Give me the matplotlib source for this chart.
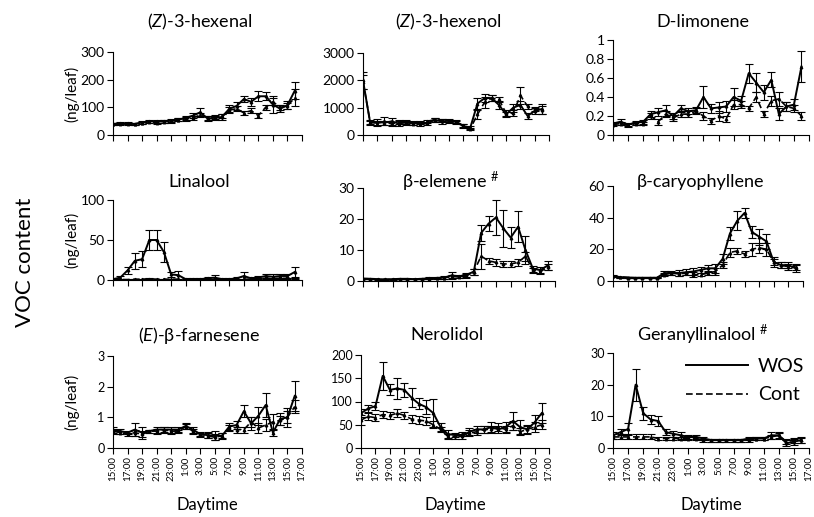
import numpy as np
import matplotlib.pyplot as plt

plt.rcParams['font.family'] = ['Lato', 'DejaVu Sans']
plt.rcParams['mathtext.fontset'] = 'custom'
plt.rcParams['mathtext.rm'] = 'Lato'
plt.rcParams['mathtext.it'] = 'Lato:italic'

# hours after 15:00, one sample per hour (15:00 -> 16:00 next day)
hours = np.arange(26)
tick_labels = ['15:00', '17:00', '19:00', '21:00', '23:00', '1:00', '3:00',
               '5:00', '7:00', '9:00', '11:00', '13:00', '15:00', '17:00']

# (Z)-3-hexenal
hexenal_wos = [40, 42, 40, 40, 45, 50, 50, 48, 52, 55, 62, 70, 82, 60, 62, 65, 95, 105, 130, 120, 140, 140, 110, 95, 108, 160]
hexenal_wos_se = [4, 4, 3, 4, 4, 5, 6, 5, 5, 6, 8, 10, 15, 8, 8, 10, 12, 15, 12, 15, 18, 15, 30, 12, 15, 30]
hexenal_cont = [38, 40, 42, 40, 44, 48, 45, 50, 50, 55, 58, 62, 72, 62, 65, 68, 90, 95, 80, 88, 70, 100, 120, 100, 105, 135]
hexenal_cont_se = [3, 3, 4, 3, 4, 4, 5, 5, 5, 6, 6, 8, 8, 6, 6, 8, 10, 10, 8, 10, 8, 10, 12, 10, 10, 30]

# (Z)-3-hexenol
hexenol_wos = [2000, 450, 480, 450, 500, 420, 460, 450, 400, 430, 550, 500, 520, 480, 330, 270, 1150, 1350, 1350, 1100, 750, 1000, 1100, 700, 880, 950]
hexenol_wos_se = [300, 80, 100, 80, 120, 100, 90, 80, 60, 60, 80, 80, 60, 60, 80, 60, 200, 150, 100, 150, 100, 150, 150, 100, 120, 200]
hexenol_cont = [1950, 480, 420, 500, 400, 480, 450, 420, 450, 500, 560, 520, 500, 480, 350, 230, 750, 1200, 1350, 1300, 800, 800, 1450, 1050, 950, 900]
hexenol_cont_se = [250, 60, 80, 150, 60, 80, 60, 60, 60, 60, 80, 60, 60, 50, 60, 40, 150, 200, 100, 100, 100, 100, 300, 100, 80, 150]

# D-limonene
limonene_wos = [0.12, 0.14, 0.11, 0.13, 0.14, 0.22, 0.24, 0.26, 0.20, 0.28, 0.25, 0.26, 0.40, 0.28, 0.29, 0.30, 0.40, 0.36, 0.65, 0.55, 0.45, 0.58, 0.22, 0.30, 0.32, 0.72]
limonene_wos_se = [0.02, 0.03, 0.02, 0.02, 0.02, 0.03, 0.04, 0.06, 0.03, 0.04, 0.03, 0.03, 0.12, 0.05, 0.06, 0.06, 0.09, 0.05, 0.10, 0.10, 0.08, 0.08, 0.06, 0.05, 0.06, 0.16]
limonene_cont = [0.11, 0.12, 0.10, 0.12, 0.12, 0.20, 0.14, 0.22, 0.18, 0.22, 0.22, 0.25, 0.20, 0.15, 0.20, 0.17, 0.32, 0.32, 0.28, 0.40, 0.22, 0.36, 0.38, 0.30, 0.28, 0.20]
limonene_cont_se = [0.02, 0.02, 0.02, 0.02, 0.02, 0.03, 0.03, 0.03, 0.03, 0.03, 0.03, 0.03, 0.04, 0.03, 0.05, 0.03, 0.05, 0.04, 0.03, 0.05, 0.03, 0.05, 0.07, 0.05, 0.04, 0.04]

# Linalool
linalool_wos = [1, 3, 12, 24, 26, 50, 50, 35, 7, 6, 1, 1, 1, 2, 3, 1, 1, 2, 5, 2, 3, 5, 4, 5, 5, 10]
linalool_wos_se = [1, 2, 4, 10, 10, 12, 12, 12, 3, 5, 1, 1, 1, 2, 3, 1, 1, 2, 5, 2, 2, 3, 3, 3, 3, 6]
linalool_cont = [0.5, 0.5, 0.5, 1, 1, 1.5, 1, 1, 1, 1, 0.5, 0.5, 0.5, 0.5, 1, 0.5, 0.5, 1, 1, 1, 1.5, 2, 2, 2, 2, 2]
linalool_cont_se = [0.3, 0.3, 0.3, 0.5, 0.5, 0.5, 0.5, 0.5, 0.5, 0.5, 0.3, 0.3, 0.3, 0.3, 0.5, 0.3, 0.3, 0.5, 0.5, 0.5, 0.5, 0.8, 0.8, 0.8, 0.8, 0.8]

# beta-elemene
elemene_wos = [0.8, 0.7, 0.6, 0.5, 0.6, 0.7, 0.7, 0.6, 0.7, 0.9, 1.0, 1.1, 1.8, 1.5, 2.0, 3.0, 15.5, 18.5, 20.5, 17.0, 14.0, 17.5, 10.0, 4.0, 3.5, 5.0]
elemene_wos_se = [0.2, 0.2, 0.1, 0.1, 0.1, 0.1, 0.1, 0.1, 0.2, 0.3, 0.3, 0.4, 1.2, 0.5, 0.6, 1.0, 2.5, 2.5, 5.5, 6.0, 3.5, 5.0, 4.5, 1.0, 1.0, 1.5]
elemene_cont = [0.7, 0.6, 0.5, 0.5, 0.5, 0.6, 0.6, 0.6, 0.6, 0.8, 0.9, 1.0, 1.5, 1.3, 1.6, 3.0, 8.0, 6.5, 6.0, 5.5, 5.5, 6.0, 8.0, 3.5, 3.0, 4.5]
elemene_cont_se = [0.1, 0.1, 0.1, 0.1, 0.1, 0.1, 0.1, 0.1, 0.1, 0.2, 0.2, 0.3, 0.5, 0.4, 0.5, 1.0, 4.0, 1.0, 1.0, 1.0, 1.0, 1.0, 1.5, 0.8, 0.8, 1.0]

# beta-caryophyllene
caryophyllene_wos = [3, 2.5, 2.2, 2, 2, 2, 2, 5, 5, 5, 5.5, 6, 7, 8, 8, 14, 30, 38, 43, 31, 28, 25, 12, 10, 10, 8]
caryophyllene_wos_se = [0.5, 0.3, 0.3, 0.3, 0.3, 0.3, 0.3, 1.5, 1.5, 2, 2, 2, 2, 2, 3, 3, 4, 6, 3, 4, 5, 5, 3, 2, 2, 2]
caryophyllene_cont = [3, 2.5, 2.2, 2, 2, 2, 2, 4, 5, 4.5, 5, 4, 4, 5, 6, 10, 18, 19, 17, 20, 21, 20, 12, 10, 9, 9]
caryophyllene_cont_se = [0.4, 0.3, 0.3, 0.3, 0.3, 0.3, 0.3, 1, 1, 1.5, 1, 1.5, 1, 1.5, 2, 2, 3, 2, 2, 4, 3, 4, 2, 2, 2, 2]

# (E)-beta-farnesene
farnesene_wos = [0.6, 0.55, 0.5, 0.6, 0.5, 0.55, 0.6, 0.6, 0.6, 0.6, 0.72, 0.6, 0.45, 0.42, 0.4, 0.4, 0.7, 0.75, 1.2, 0.8, 1.05, 1.4, 0.5, 0.95, 1.0, 1.7]
farnesene_wos_se = [0.1, 0.08, 0.05, 0.2, 0.2, 0.05, 0.1, 0.1, 0.1, 0.08, 0.1, 0.1, 0.08, 0.1, 0.15, 0.1, 0.1, 0.12, 0.2, 0.2, 0.3, 0.4, 0.12, 0.2, 0.3, 0.5]
farnesene_cont = [0.55, 0.5, 0.45, 0.5, 0.45, 0.55, 0.55, 0.6, 0.55, 0.55, 0.7, 0.55, 0.45, 0.4, 0.35, 0.4, 0.65, 0.6, 0.6, 0.85, 0.65, 0.75, 0.85, 0.9, 1.0, 1.35]
farnesene_cont_se = [0.08, 0.05, 0.05, 0.1, 0.1, 0.05, 0.08, 0.08, 0.08, 0.05, 0.08, 0.08, 0.05, 0.08, 0.1, 0.08, 0.1, 0.1, 0.1, 0.15, 0.15, 0.2, 0.25, 0.15, 0.2, 0.2]

# Nerolidol
nerolidol_wos = [75, 85, 90, 155, 125, 128, 125, 108, 95, 88, 75, 45, 30, 28, 25, 35, 40, 40, 45, 40, 45, 58, 45, 40, 55, 75]
nerolidol_wos_se = [8, 8, 8, 30, 12, 22, 15, 20, 12, 15, 30, 8, 8, 5, 5, 8, 8, 8, 10, 8, 10, 20, 15, 10, 15, 22]
nerolidol_cont = [60, 68, 65, 72, 70, 75, 70, 62, 60, 58, 50, 40, 25, 25, 30, 32, 35, 40, 40, 45, 40, 48, 35, 40, 45, 50]
nerolidol_cont_se = [10, 8, 8, 8, 8, 8, 8, 8, 8, 8, 8, 6, 5, 5, 5, 6, 6, 8, 8, 8, 8, 10, 8, 8, 10, 10]

# Geranyllinalool
geranyl_wos = [4, 5, 6, 20, 11, 9, 8.5, 5, 4.5, 4, 3.5, 3.5, 3, 2.5, 2.5, 2.5, 2.5, 2.5, 3, 3, 3, 4, 4, 1.5, 2, 2.5]
geranyl_wos_se = [1, 1, 2, 5, 2, 1.5, 1.5, 1, 1, 1, 0.5, 0.5, 0.5, 0.5, 0.5, 0.5, 0.5, 0.5, 0.5, 0.5, 0.5, 1, 1, 1, 1, 1]
geranyl_cont = [3.5, 3.5, 3.5, 3.5, 3.5, 3.5, 3, 3, 3, 3, 3, 3, 2.5, 2.5, 2.5, 2.5, 2.5, 2.5, 2.5, 3, 3, 3.5, 4, 2, 2.5, 2.5]
geranyl_cont_se = [0.8, 0.8, 0.8, 0.8, 0.8, 0.8, 0.5, 0.5, 0.5, 0.5, 0.5, 0.5, 0.5, 0.5, 0.5, 0.5, 0.5, 0.5, 0.5, 0.5, 0.5, 0.5, 0.8, 0.8, 0.8, 0.8]

W, H = 814, 517


def px_rect(l, t, r, b):
    return [l / W, 1 - b / H, (r - l) / W, (b - t) / H]


panels = [
    ('($\\mathit{Z}$)-3-hexenal', hexenal_wos, hexenal_wos_se, hexenal_cont, hexenal_cont_se,
     (0, 300), [0, 100, 200, 300], (113, 52, 302, 135), 22),
    ('($\\mathit{Z}$)-3-hexenol', hexenol_wos, hexenol_wos_se, hexenol_cont, hexenol_cont_se,
     (0, 3000), [0, 1000, 2000, 3000], (363, 53, 549, 135), 22),
    ('D-limonene', limonene_wos, limonene_wos_se, limonene_cont, limonene_cont_se,
     (0, 1), [0, 0.2, 0.4, 0.6, 0.8, 1], (613, 40, 809, 135), 22),
    ('Linalool', linalool_wos, linalool_wos_se, linalool_cont, linalool_cont_se,
     (0, 100), [0, 50, 100], (113, 200, 302, 280), 182),
    ('β-elemene $^{\\#}$', elemene_wos, elemene_wos_se, elemene_cont, elemene_cont_se,
     (0, 30), [0, 10, 20, 30], (363, 188, 555, 281), 182),
    ('β-caryophyllene', caryophyllene_wos, caryophyllene_wos_se, caryophyllene_cont, caryophyllene_cont_se,
     (0, 60), [0, 20, 40, 60], (613, 186, 803, 281), 182),
    ('($\\mathit{E}$)-β-farnesene', farnesene_wos, farnesene_wos_se, farnesene_cont, farnesene_cont_se,
     (0, 3), [0, 1, 2, 3], (113, 356, 302, 448), 335),
    ('Nerolidol', nerolidol_wos, nerolidol_wos_se, nerolidol_cont, nerolidol_cont_se,
     (0, 200), [0, 50, 100, 150, 200], (361, 355, 549, 448), 335),
    ('Geranyllinalool $^{\\#}$', geranyl_wos, geranyl_wos_se, geranyl_cont, geranyl_cont_se,
     (0, 30), [0, 10, 20, 30], (613, 353, 809, 448), 335),
]

fig = plt.figure(figsize=(W / 100, H / 100), dpi=100)

for i, (title, wos, wos_se, cont, cont_se, ylim, yticks, rect, title_y) in enumerate(panels):
    ax = fig.add_axes(px_rect(*rect))
    row, col = divmod(i, 3)
    ax.errorbar(hours, cont, yerr=cont_se, color='black', lw=1.2, ls=(0, (4, 2)),
                marker='^', ms=1.8, capsize=3, elinewidth=0.8, capthick=0.8)
    ax.errorbar(hours, wos, yerr=wos_se, color='black', lw=1.4, ls='-',
                marker='^', ms=1.8, capsize=3, elinewidth=0.8, capthick=0.8)
    ax.set_xlim(0, 26)
    ax.set_ylim(*ylim)
    ax.set_yticks(yticks)
    ax.set_yticklabels([f'{v:g}' for v in yticks], fontsize=10 if row < 2 else 9)
    ax.set_xticks(np.arange(0, 27, 2))
    if row == 2:
        ax.set_xticklabels(tick_labels, rotation=90, fontsize=7)
    else:
        ax.set_xticklabels([])
    ax.tick_params(direction='out', length=4, width=0.8, pad=2)
    for side in ['top', 'right']:
        ax.spines[side].set_visible(False)
    for side in ['left', 'bottom']:
        ax.spines[side].set_linewidth(0.8)
    cx = (rect[0] + rect[2]) / 2 - 8
    fig.text(cx / W, 1 - title_y / H, title, ha='center', va='center', fontsize=13)
    if col == 0:
        fig.text(72 / W, 1 - (rect[1] + rect[3]) / 2 / H, '(ng/leaf)', rotation=90,
                 ha='center', va='center', fontsize=11)
    if row == 2:
        fig.text((rect[0] + rect[2]) / 2 / W, 1 - 505 / H, 'Daytime',
                 ha='center', va='center', fontsize=12)
    if i == 8:
        ax.plot([], [], color='black', lw=1.4, ls='-', label='WOS')
        ax.plot([], [], color='black', lw=1.2, ls=(0, (4, 2)), label='Cont')
        ax.legend(loc='upper right', bbox_to_anchor=(812 / W, 1 - 350 / H),
                  bbox_transform=fig.transFigure, frameon=False, fontsize=14,
                  handlelength=3.2, labelspacing=0.6, handletextpad=0.5, borderaxespad=0)

fig.text(25 / W, 1 - 262 / H, 'VOC content', rotation=90, ha='center', va='center', fontsize=16)

fig.savefig('out.png', dpi=100)
